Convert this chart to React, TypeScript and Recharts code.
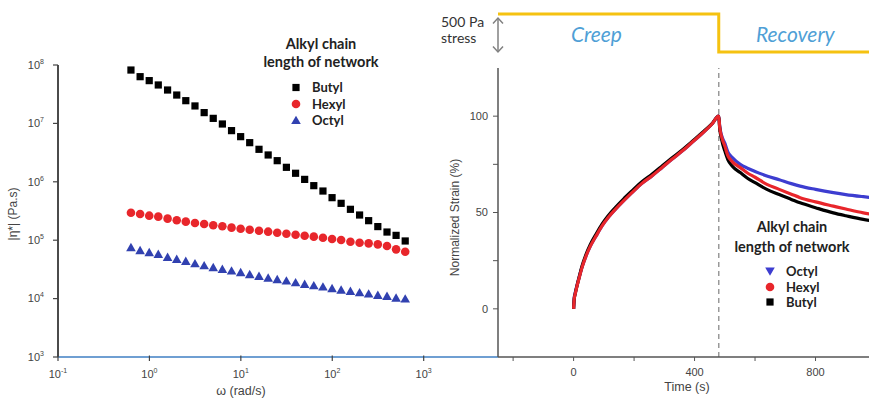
import React from "react";
import { ScatterChart, Scatter, LineChart, Line, XAxis, YAxis, ReferenceLine } from "recharts";

// frequency sweep (rad/s), 10 points per decade
const OMEGA = [0.628, 0.791, 0.995, 1.25, 1.58, 1.99, 2.5, 3.15, 3.97, 4.99, 6.28, 7.91, 9.95, 12.5, 15.8, 19.9, 25, 31.5, 39.7, 49.9, 62.8, 79.1, 99.5, 125, 158, 199, 250, 315, 397, 499, 628];
// complex viscosity |η*| (Pa.s)
const BUTYL_ETA = [8.2e7, 6.31e7, 5.4e7, 4.55e7, 3.73e7, 3.06e7, 2.45e7, 1.99e7, 1.53e7, 1.22e7, 9.77e6, 7.52e6, 5.93e6, 4.68e6, 3.6e6, 2.88e6, 2.3e6, 1.77e6, 1.4e6, 1.1e6, 8.59e5, 6.95e5, 5.35e5, 4.28e5, 3.38e5, 2.7e5, 2.16e5, 1.71e5, 1.38e5, 1.21e5, 9.7e4];
const HEXYL_ETA = [2.96e5, 2.81e5, 2.63e5, 2.53e5, 2.34e5, 2.19e5, 2.08e5, 1.97e5, 1.89e5, 1.8e5, 1.73e5, 1.64e5, 1.57e5, 1.51e5, 1.45e5, 1.4e5, 1.34e5, 1.29e5, 1.24e5, 1.19e5, 1.15e5, 1.1e5, 1.05e5, 1.01e5, 9.42e4, 9.06e4, 8.83e4, 8.49e4, 7.96e4, 6.97e4, 6.35e4];
const OCTYL_ETA = [7.45e4, 6.62e4, 6.12e4, 5.73e4, 5.09e4, 4.7e4, 4.35e4, 3.96e4, 3.66e4, 3.39e4, 3.17e4, 2.97e4, 2.78e4, 2.57e4, 2.41e4, 2.25e4, 2.11e4, 2.0e4, 1.87e4, 1.75e4, 1.66e4, 1.58e4, 1.48e4, 1.4e4, 1.33e4, 1.26e4, 1.2e4, 1.14e4, 1.09e4, 1.02e4, 9.85e3];
const OMEGA_TICKS = [0.1, 1, 10, 100, 1000];
const ETA_TICKS = [1e3, 1e4, 1e5, 1e6, 1e7, 1e8];

// creep (0-480 s) then recovery, normalized strain (%)
const TIME = [0, 2, 5, 11, 20, 28, 40, 55, 75, 94, 115, 138, 165, 193, 225, 259, 290, 325, 360, 391, 425, 457, 480, 483, 490, 500, 510, 525, 551, 575, 600, 639, 680, 720, 749, 800, 859, 900, 958, 1000];
const OCTYL_STRAIN = [0, 5.5, 8, 12, 17.3, 21.7, 27, 32.4, 38, 43, 47.5, 51.6, 56, 60.3, 65, 69, 73, 77.6, 82, 86.3, 91, 95.8, 100, 95, 89.7, 86, 81.5, 78.5, 75, 73, 71.3, 69, 67, 65, 63.7, 62, 60.3, 59.3, 58.2, 57.5];
const HEXYL_STRAIN = [0, 5, 7.5, 11.6, 17, 21.5, 27, 32.4, 38, 43, 47.5, 51.6, 56, 60.3, 65, 69, 73, 77.6, 82, 86.3, 91, 95.8, 100, 94.5, 89, 84.5, 79.5, 76.3, 73.3, 70.5, 68.3, 64.6, 62, 59.5, 57.7, 55.5, 53.3, 51.8, 49.8, 48.8];
const BUTYL_STRAIN = [0, 5, 7.6, 11.8, 17.5, 22.2, 27.8, 33.3, 39, 44, 48.5, 52.6, 57, 61.2, 65.8, 69.8, 73.8, 78.3, 82.6, 86.8, 91.4, 96, 100, 94, 87.5, 82, 77.5, 74, 70.7, 67.8, 65.5, 62, 59.3, 56.8, 55, 52.5, 49.8, 48.3, 46.4, 45.5];
const TIME_TICKS = [-200, 0, 200, 400, 600, 800, 1000];
const TIME_LABELS = [0, 400, 800];
const STRAIN_TICKS = [0, 25, 50, 75, 100];
const STRAIN_LABELS = [0, 50, 100];

// applied stress step
const STRESS_TIME = [-250, 480, 480, 1000];
const STRESS_PA = [500, 500, 0, 0];
const STEP_END = 480;

const AXIS_FONT = "'Liberation Sans', Arial, sans-serif";
const LABEL_FONT = "Lato, 'Open Sans', sans-serif";
const AXIS_GREY = "#555";

const BLACK = "#000000";
const RED = "#e8262b";
const BLUE = "#3141b0";
const LINE_BLUE = "#3d3dd0";
const GOLD = "#f5c211";

// tick geometry for the log-log panel
const ETA_TICK_SIZE = 5;
const ETA_TICK_GAP = 9;
const OMEGA_TICK_SIZE = 4;
const OMEGA_TICK_GAP = 9;

type Shape = "square" | "circle" | "triangle" | "triangleDown";

function Marker({ shape, x, y, color }: { shape: Shape; x: number; y: number; color: string }) {
  if (shape === "square") return <rect x={x - 3.6} y={y - 3.6} width={7.2} height={7.2} fill={color} />;
  if (shape === "circle") return <circle cx={x} cy={y} r={4.3} fill={color} />;
  if (shape === "triangle")
    return <polygon points={`${x},${y - 4.8} ${x + 4.8},${y + 3.6} ${x - 4.8},${y + 3.6}`} fill={color} />;
  return <polygon points={`${x},${y + 4.8} ${x + 4.8},${y - 3.6} ${x - 4.8},${y - 3.6}`} fill={color} />;
}

const viscosity = [
  { name: "Butyl", color: BLACK, shape: "square" as Shape, data: OMEGA.map((w, i) => ({ w, eta: BUTYL_ETA[i] })) },
  { name: "Hexyl", color: RED, shape: "circle" as Shape, data: OMEGA.map((w, i) => ({ w, eta: HEXYL_ETA[i] })) },
  { name: "Octyl", color: BLUE, shape: "triangle" as Shape, data: OMEGA.map((w, i) => ({ w, eta: OCTYL_ETA[i] })) },
];

const strainRows = TIME.map((t, i) => ({
  t,
  octyl: OCTYL_STRAIN[i],
  hexyl: HEXYL_STRAIN[i],
  butyl: BUTYL_STRAIN[i],
}));

const stressRows = STRESS_TIME.map((t, i) => ({ t, pa: STRESS_PA[i] }));

// "10" with the decade as superscript
function powerLabel(value: number) {
  const exp = Math.round(Math.log10(value));
  return [
    "10",
    <tspan key="e" dy={-5} fontSize={7}>
      {exp}
    </tspan>,
  ];
}

function EtaTick(props: any) {
  const { x, y, payload } = props;
  const ax = x + ETA_TICK_GAP + ETA_TICK_SIZE;
  return (
    <g>
      <line x1={ax - ETA_TICK_SIZE} y1={y} x2={ax} y2={y} stroke="#444" strokeWidth={1.2} />
      <text x={x} y={y} dy="0.35em" textAnchor="end" fill="#444" fontSize={11} fontFamily={AXIS_FONT}>
        {powerLabel(payload.value)}
      </text>
    </g>
  );
}

function OmegaTick(props: any) {
  const { x, y, payload } = props;
  const ay = y - OMEGA_TICK_GAP - OMEGA_TICK_SIZE;
  return (
    <g>
      <line x1={x} y1={ay - 1.5} x2={x} y2={ay + OMEGA_TICK_SIZE} stroke="#444" strokeWidth={1.2} />
      <text x={x} y={y} dy="0.71em" textAnchor="middle" fill="#444" fontSize={11} fontFamily={AXIS_FONT}>
        {powerLabel(payload.value)}
      </text>
    </g>
  );
}

const sideTitle = (text: string, dx: number, dy: number) => (props: any) => {
  const vb = props.viewBox;
  const cx = vb.x + dx;
  const cy = vb.y + vb.height / 2 + dy;
  return (
    <text
      x={cx}
      y={cy}
      transform={`rotate(-90 ${cx} ${cy})`}
      textAnchor="middle"
      dominantBaseline="central"
      fill="#444"
      fontSize={12}
      fontFamily={AXIS_FONT}
    >
      {text}
    </text>
  );
};

const bottomTitle = (text: string, dx: number, dy: number) => (props: any) => {
  const vb = props.viewBox;
  return (
    <text x={vb.x + dx} y={vb.y + dy} textAnchor="middle" fill="#444" fontSize={12.5} fontFamily={AXIS_FONT}>
      {text}
    </text>
  );
};

type LegendItem = { name: string; color: string; shape: Shape };

function ChainLegend({
  cx, titleY, lineGap, markerX, textX, rows, items,
}: {
  cx: number; titleY: number; lineGap: number; markerX: number; textX: number; rows: number[]; items: LegendItem[];
}) {
  return (
    <g fontFamily={LABEL_FONT} fontWeight={700} fill="#222">
      <text x={cx} y={titleY} textAnchor="middle" fontSize={14.5}>Alkyl chain</text>
      <text x={cx} y={titleY + lineGap} textAnchor="middle" fontSize={14.5}>length of network</text>
      {items.map((it, i) => (
        <g key={it.name}>
          <Marker shape={it.shape} x={markerX} y={rows[i]} color={it.color} />
          <text x={textX} y={rows[i]} dy="0.36em" fontSize={13}>{it.name}</text>
        </g>
      ))}
    </g>
  );
}

export default function App() {
  return (
    <div style={{ position: "fixed", left: 0, top: 0, width: 869, height: 401, overflow: "hidden", background: "#fff" }}>
      {/* complex viscosity vs frequency */}
      <div style={{ position: "absolute", left: 0, top: 0 }}>
        <ScatterChart width={500} height={401} margin={{ top: 65, right: 2, bottom: 14, left: 18 }}>
          <XAxis
            type="number"
            dataKey="w"
            scale="log"
            domain={[0.1, 6500]}
            ticks={OMEGA_TICKS}
            interval={0}
            allowDataOverflow
            axisLine={{ stroke: "#6f9fd2", strokeWidth: 2 }}
            tickLine={false}
            tickSize={OMEGA_TICK_SIZE}
            tickMargin={OMEGA_TICK_GAP}
            tick={<OmegaTick />}
            label={bottomTitle("ω (rad/s)", 183, 38)}
          />
          <YAxis
            type="number"
            dataKey="eta"
            scale="log"
            domain={[1e3, 1e8]}
            ticks={ETA_TICKS}
            interval={0}
            allowDataOverflow
            width={40}
            axisLine={{ stroke: "#444", strokeWidth: 1.6 }}
            tickLine={false}
            tickSize={ETA_TICK_SIZE}
            tickMargin={ETA_TICK_GAP}
            tick={<EtaTick />}
            label={sideTitle("|η*| (Pa.s)", -5, 3)}
          />
          {/* left spine of the viscosity panel */}
          <ReferenceLine x={OMEGA_TICKS[0]} stroke="#444" strokeWidth={1.6} ifOverflow="visible" />
          {viscosity.map((s) => (
            <Scatter
              key={s.name}
              name={s.name}
              data={s.data}
              fill={s.color}
              isAnimationActive={false}
              shape={(p: any) => <Marker shape={s.shape} x={p.cx} y={p.cy} color={s.color} />}
            />
          ))}
        </ScatterChart>
      </div>

      {/* normalized creep / recovery strain */}
      <div style={{ position: "absolute", left: 440, top: 0 }}>
        <LineChart width={440} height={401} data={strainRows} margin={{ top: 68, right: 4, bottom: 14, left: 8 }}>
          <XAxis
            type="number"
            dataKey="t"
            domain={[-250, 1000]}
            ticks={TIME_TICKS}
            interval={0}
            allowDataOverflow
            axisLine={{ stroke: AXIS_GREY, strokeWidth: 1.5 }}
            tickLine={{ stroke: AXIS_GREY }}
            tickSize={4}
            tickMargin={7}
            tick={{ fill: "#444", fontSize: 11, fontFamily: AXIS_FONT }}
            tickFormatter={(v: number) => (TIME_LABELS.includes(v) ? String(v) : "")}
            label={bottomTitle("Time (s)", 189, 34)}
          />
          <YAxis
            type="number"
            domain={[-25, 125]}
            ticks={STRAIN_TICKS}
            interval={0}
            allowDataOverflow
            width={50}
            axisLine={{ stroke: AXIS_GREY, strokeWidth: 1.5 }}
            tickLine={{ stroke: AXIS_GREY }}
            tickSize={5}
            tickMargin={5}
            tick={{ fill: "#444", fontSize: 11, fontFamily: AXIS_FONT }}
            tickFormatter={(v: number) => (STRAIN_LABELS.includes(v) ? String(v) : "")}
            label={sideTitle("Normalized Strain (%)", 7, 5)}
          />
          <ReferenceLine x={STEP_END} stroke="#999" strokeWidth={1.5} strokeDasharray="5 4" />
          <Line type="monotone" dataKey="octyl" name="Octyl" stroke={LINE_BLUE} strokeWidth={3.2} dot={false} activeDot={false} isAnimationActive={false} />
          <Line type="monotone" dataKey="butyl" name="Butyl" stroke={BLACK} strokeWidth={3.2} dot={false} activeDot={false} isAnimationActive={false} />
          <Line type="monotone" dataKey="hexyl" name="Hexyl" stroke={RED} strokeWidth={3.2} dot={false} activeDot={false} isAnimationActive={false} />
        </LineChart>
      </div>

      {/* stress step above the strain plot */}
      <div style={{ position: "absolute", left: 440, top: 0 }}>
        <LineChart width={440} height={70} data={stressRows} margin={{ top: 14, right: 4, bottom: 18, left: 58 }}>
          <XAxis type="number" dataKey="t" domain={[-250, 1000]} hide />
          <YAxis type="number" domain={[0, 500]} hide width={0} />
          <Line type="linear" dataKey="pa" stroke={GOLD} strokeWidth={3} dot={false} activeDot={false} isAnimationActive={false} />
        </LineChart>
      </div>

      <svg width={869} height={401} style={{ position: "absolute", left: 0, top: 0, pointerEvents: "none" }}>
        <g fontFamily={LABEL_FONT} fill="#333" fontSize={14}>
          <text x={441} y={27}>500 Pa</text>
          <text x={441} y={43}>stress</text>
        </g>
        <g stroke="#808080" strokeWidth={1.5} fill="none">
          <line x1={498} y1={18} x2={498} y2={52} />
          <polyline points="493,23.5 498,18 503,23.5" />
          <polyline points="493,46.5 498,52 503,46.5" />
        </g>
        <g fontFamily={LABEL_FONT} fontStyle="italic" fill="#4f9fd6" fontSize={21}>
          <text x={571} y={42}>Creep</text>
          <text x={756} y={42}>Recovery</text>
        </g>
        <ChainLegend
          cx={321}
          titleY={49}
          lineGap={17.5}
          markerX={296}
          textX={312}
          rows={[87.5, 104, 120.5]}
          items={viscosity}
        />
        <ChainLegend
          cx={792}
          titleY={231.5}
          lineGap={20}
          markerX={770}
          textX={786}
          rows={[271, 287, 302]}
          items={[
            { name: "Octyl", color: LINE_BLUE, shape: "triangleDown" },
            { name: "Hexyl", color: RED, shape: "circle" },
            { name: "Butyl", color: BLACK, shape: "square" },
          ]}
        />
      </svg>
    </div>
  );
}
